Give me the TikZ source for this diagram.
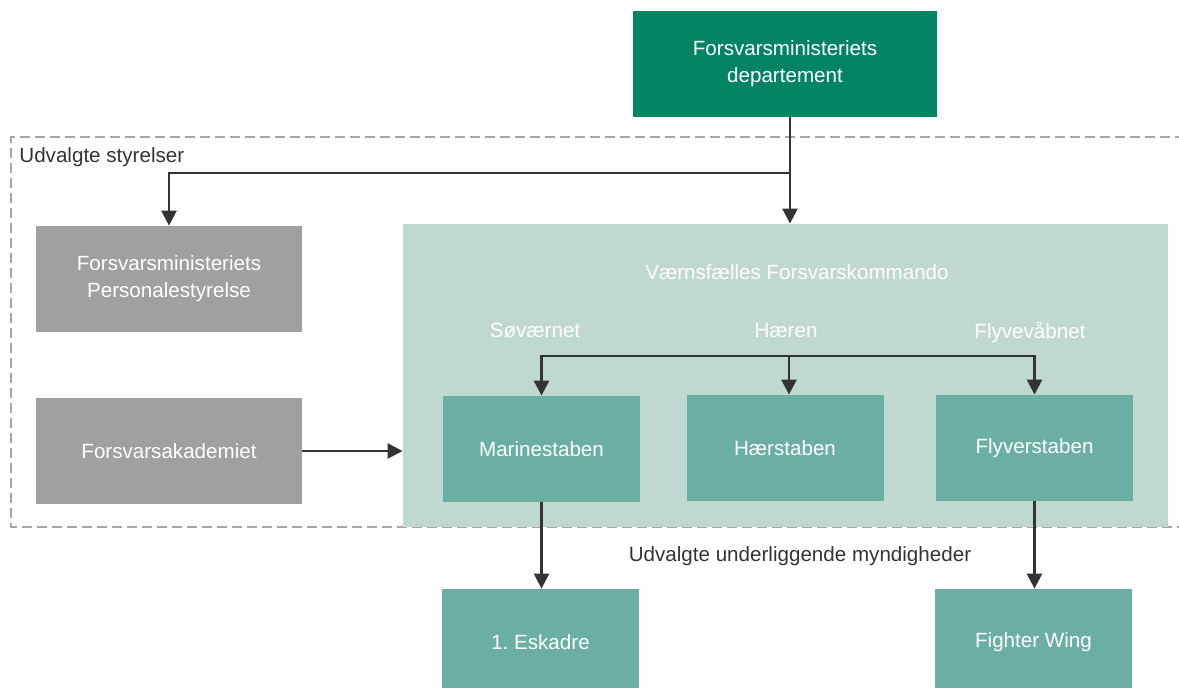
\documentclass[tikz,border=0pt]{standalone}
\usepackage{fontspec}
\setmainfont{Liberation Sans}
\usetikzlibrary{calc, positioning}
\usetikzlibrary{arrows.meta}

\definecolor{depgreen}{RGB}{0,132,99}
\definecolor{palegreen}{RGB}{191,217,208}
\definecolor{midgreen}{RGB}{106,175,162}
\definecolor{boxgray}{RGB}{160,160,160}
\definecolor{linegray}{RGB}{51,51,51}
\definecolor{framegray}{RGB}{166,166,166}

\begin{document}
\frenchspacing
\begin{tikzpicture}[x=0.5pt, y=-0.5pt,
  font=\fontsize{10.3}{13.5}\selectfont,
  box/.style={draw=none, text=white, align=center, inner sep=0pt, minimum width=98.5pt, minimum height=53pt},
  link/.style={draw=linegray, line width=1.3pt, -{Triangle[length=7.5pt, width=7.5pt]}},
  frame/.style={draw=framegray, line width=0.6pt, dash pattern=on 5pt off 2.5pt}]
\useasboundingbox (0,0) rectangle (1179,687);

% dashed frame round the agencies
\draw[frame] (1185,137) -- (11,137) -- (11,527) -- (1185,527);
\node[anchor=west, text=linegray, inner sep=0pt] (styr) at (19,157) {Udvalgte styrelser};

\node[box, fill=depgreen, minimum width=152pt] (dep) at (785,64) {Forsvarsministeriets\\departement};
\node[box, fill=boxgray, minimum width=133pt] (fps) at (169,279) {Forsvarsministeriets\\Personalestyrelse};
\node[box, fill=boxgray, minimum width=133pt] (fak) at (169,451) {Forsvarsakademiet};
\node[box, fill=palegreen, minimum width=382.5pt, minimum height=151.5pt] (vfk) at (785.5,375.5) {};

\node[text=white, inner sep=0pt] (vfklbl) at (797,272) {Værnsfælles Forsvarskommando};
\node[text=white, inner sep=0pt] (soe) at (535,330) {Søværnet};
\node[text=white, inner sep=0pt] (hae) at (786,331) {Hæren};
\node[text=white, inner sep=0pt] (flv) at (1030,332) {Flyvevåbnet};

\node[box, fill=midgreen] (mar) at (541.5,449) {Marinestaben};
\node[box, fill=midgreen] (haer) at (785,448) {Hærstaben};
\node[box, fill=midgreen] (fly) at (1034.5,448) {Flyverstaben};

\node[text=linegray, inner sep=0pt] (under) at (800,556) {Udvalgte underliggende myndigheder};
\node[box, fill=midgreen] (esk) at (540.5,642) {1. Eskadre};
\node[box, fill=midgreen] (fw) at (1033.5,642) {Fighter Wing};

\coordinate (fork) at (790,173);
\coordinate (vbar) at (789,356);

\draw[link] (fork |- dep.south) -- (fork |- vfk.north);
\draw[link] (fork) -| (fps.north);
\draw[link] (fak.east) -- (vfk.west |- fak.east);

\draw[link] (vbar) -| (mar.north);
\draw[link] (vbar) -| (fly.north);
\draw[link] (vbar) -- (vbar |- haer.north);

\draw[link] (mar.south) -- (mar.south |- esk.north);
\draw[link] (fly.south) -- (fly.south |- fw.north);
\end{tikzpicture}
\end{document}
